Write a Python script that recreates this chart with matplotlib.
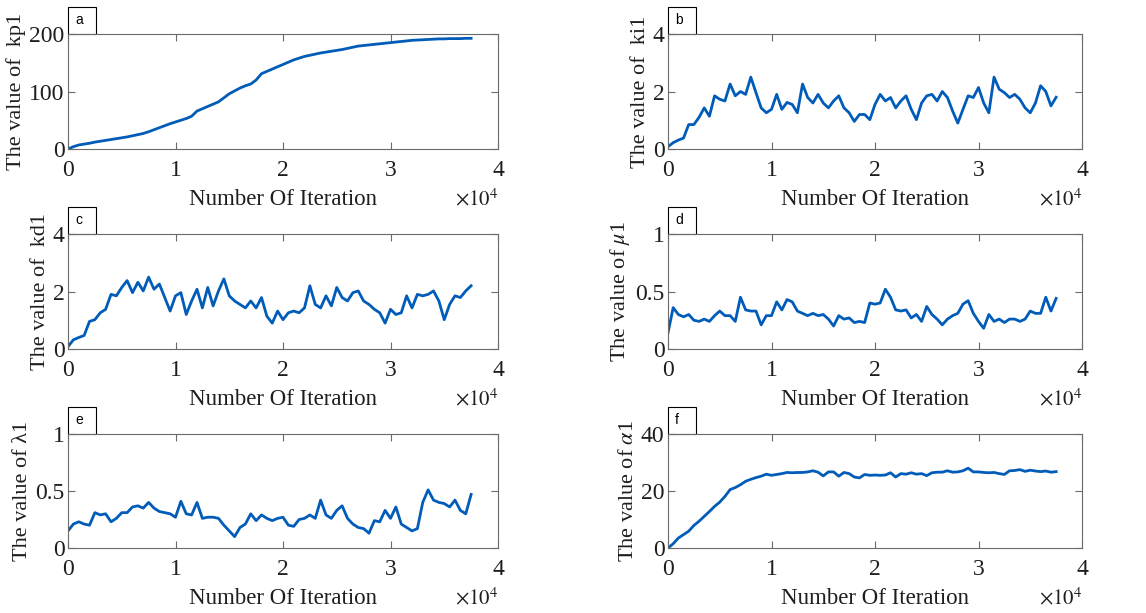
import matplotlib
matplotlib.use('Agg')
import matplotlib.pyplot as plt
import numpy as np
from matplotlib.patches import Rectangle
from matplotlib.ticker import FuncFormatter

plt.rcParams['font.family'] = ['Liberation Serif', 'DejaVu Serif']
plt.rcParams['mathtext.fontset'] = 'stix'

# ---------------- data (iterations 0 .. 37500, step 500) ----------------
last_iteration = 37500

kp1 = [0, 4, 7, 8.5, 10, 12, 13.5, 15, 16.5, 18, 19.5, 21, 23, 25, 27, 30, 33.5, 37, 40.5, 44,
       47, 50, 53, 57, 66, 70, 74, 78, 82, 89, 96, 101, 106, 110, 113, 120, 131, 135, 139, 143,
       147, 151, 155, 158, 161, 163, 165, 167, 168.5, 170, 171.5, 173, 175, 177, 179, 180, 181,
       182, 183, 184, 185, 186, 187, 188, 189, 189.5, 190, 190.5, 191, 191.5, 191.5, 192, 192,
       192, 192.5, 192.5]

ki1 = [0.08, 0.22, 0.31, 0.38, 0.85, 0.85, 1.1, 1.43, 1.14, 1.85, 1.73, 1.67, 2.26, 1.85, 2.0,
       1.9, 2.5, 1.96, 1.43, 1.26, 1.38, 1.9, 1.38, 1.62, 1.55, 1.26, 2.26, 1.79, 1.6, 1.9, 1.6,
       1.43, 1.67, 1.85, 1.43, 1.26, 0.96, 1.2, 1.2, 1.02, 1.55, 1.9, 1.67, 1.79, 1.43, 1.67,
       1.85, 1.38, 1.02, 1.6, 1.85, 1.9, 1.67, 2.0, 1.79, 1.32, 0.9, 1.38, 1.85, 1.79, 2.14, 1.6,
       1.26, 2.5, 2.08, 1.96, 1.79, 1.9, 1.73, 1.43, 1.26, 1.6, 2.2, 2.0, 1.5, 1.8]

kd1 = [0.08, 0.32, 0.4, 0.47, 0.96, 1.02, 1.26, 1.38, 1.9, 1.85, 2.14, 2.38, 1.96, 2.32, 2.02,
       2.5, 2.08, 2.26, 1.79, 1.32, 1.85, 1.96, 1.2, 1.67, 2.08, 1.43, 2.14, 1.5, 2.02, 2.44,
       1.85, 1.67, 1.55, 1.43, 1.67, 1.43, 1.79, 1.14, 0.9, 1.32, 1.02, 1.26, 1.32, 1.26, 1.43,
       2.2, 1.55, 1.43, 1.85, 1.5, 2.14, 1.79, 1.67, 1.96, 2.02, 1.67, 1.55, 1.38, 1.26, 0.9,
       1.38, 1.2, 1.26, 1.85, 1.43, 1.9, 1.85, 1.9, 2.02, 1.67, 1.02, 1.55, 1.85, 1.79, 2.02, 2.2]

mu1 = [0.14, 0.36, 0.3, 0.28, 0.3, 0.25, 0.24, 0.26, 0.24, 0.29, 0.33, 0.29, 0.29, 0.24, 0.45,
       0.34, 0.33, 0.33, 0.21, 0.29, 0.29, 0.41, 0.34, 0.43, 0.41, 0.33, 0.31, 0.29, 0.31, 0.29,
       0.3, 0.26, 0.2, 0.29, 0.26, 0.27, 0.23, 0.24, 0.23, 0.4, 0.39, 0.4, 0.52, 0.45, 0.34,
       0.33, 0.34, 0.27, 0.3, 0.24, 0.37, 0.3, 0.26, 0.21, 0.26, 0.29, 0.31, 0.39, 0.42, 0.31,
       0.24, 0.18, 0.3, 0.24, 0.26, 0.23, 0.26, 0.26, 0.24, 0.26, 0.33, 0.31, 0.31, 0.45, 0.33,
       0.44]

lambda1 = [0.15, 0.21, 0.23, 0.21, 0.2, 0.31, 0.29, 0.3, 0.23, 0.26, 0.31, 0.31, 0.36, 0.37,
           0.35, 0.4, 0.35, 0.32, 0.31, 0.3, 0.27, 0.41, 0.3, 0.29, 0.4, 0.26, 0.27, 0.27, 0.26,
           0.2, 0.15, 0.1, 0.18, 0.21, 0.3, 0.24, 0.29, 0.26, 0.24, 0.26, 0.27, 0.2, 0.19, 0.25,
           0.26, 0.29, 0.26, 0.42, 0.29, 0.26, 0.33, 0.37, 0.26, 0.21, 0.18, 0.17, 0.13, 0.24,
           0.23, 0.33, 0.26, 0.36, 0.21, 0.18, 0.15, 0.17, 0.4, 0.51, 0.42, 0.4, 0.39, 0.36, 0.42,
           0.33, 0.3, 0.47]

alpha1 = [0, 1.5, 3.5, 4.7, 5.9, 7.9, 9.4, 11.1, 12.8, 14.6, 16.1, 18.1, 20.5, 21.2, 22.2, 23.4,
          24.1, 24.7, 25.2, 25.9, 25.5, 25.8, 26.1, 26.5, 26.4, 26.5, 26.5, 26.7, 27.1, 26.6,
          25.3, 26.7, 26.7, 25.2, 26.5, 26.1, 24.9, 24.6, 25.8, 25.5, 25.6, 25.5, 25.6, 26.4,
          24.9, 26.1, 25.9, 26.4, 25.9, 26.1, 25.4, 26.4, 26.6, 26.6, 27.1, 26.6, 26.7, 27.1,
          28.0, 26.7, 26.7, 26.5, 26.4, 26.5, 26.1, 25.8, 27.1, 27.2, 27.5, 26.9, 27.3, 27.0,
          26.8, 27.0, 26.6, 26.8]

panel_letters = ['a', 'b', 'c', 'd', 'e', 'f']
y_labels = ['The value of  kp1', 'The value of  ki1', 'The value of  kd1',
            r'The value of $\mu$1', 'The value of λ1', r'The value of $\alpha$1']
series = [kp1, ki1, kd1, mu1, lambda1, alpha1]
y_limits = [(0, 200), (0, 4), (0, 4), (0, 1), (0, 1), (0, 40)]
y_ticks = [[0, 100, 200], [0, 2, 4], [0, 2, 4], [0, 0.5, 1], [0, 0.5, 1], [0, 20, 40]]
x_ticks = [0, 10000, 20000, 30000, 40000]
x_tick_labels = ['0', '1', '2', '3', '4']
x_label = 'Number Of Iteration'

# ---------------- layout ----------------
W, H = 1146, 613
fig = plt.figure(figsize=(W / 100, H / 100), dpi=100)

cols = [(68, 498), (668, 1082)]
rows = [(34, 149), (234, 349), (434, 548)]

line_color = '#005cb8'
frame_color = '#6a6a6a'
text_color = '#1e1e1e'

for i, y in enumerate(series):
    r, c = divmod(i, 2)
    x0, x1 = cols[c]
    y0, y1 = rows[r]
    ax = fig.add_axes([x0 / W, 1 - y1 / H, (x1 - x0) / W, (y1 - y0) / H])
    x = np.linspace(0, last_iteration, len(y))
    ax.plot(x, y, color=line_color, lw=2.0, solid_joinstyle='round')
    ax.set_xlim(0, 40000)
    ax.set_ylim(*y_limits[i])
    ax.set_xticks(x_ticks)
    ax.set_xticklabels(x_tick_labels)
    ax.set_yticks(y_ticks[i])
    ax.yaxis.set_major_formatter(FuncFormatter(lambda v, p: '%g' % v))
    for s in ax.spines.values():
        s.set_color(frame_color)
        s.set_linewidth(0.8)
    ax.tick_params(direction='in', top=True, right=True, length=5, width=0.8,
                   color=frame_color, labelsize=17, labelcolor=text_color)
    ax.tick_params(axis='x', pad=8)
    ax.tick_params(axis='y', pad=2.5)
    ax.set_xlabel(x_label, fontsize=16.5, color=text_color, labelpad=5.5)
    ax.set_ylabel(y_labels[i], fontsize=16, color=text_color, labelpad=2)
    ax.text(1.0, -51 / (y1 - y0), r'$\times 10^{4}$', transform=ax.transAxes, ha='right',
            va='center', fontsize=15, color=text_color)
    bw = 28 / (x1 - x0)
    bh = 27 / (y1 - y0)
    ax.add_patch(Rectangle((0, 1), bw, bh, transform=ax.transAxes, clip_on=False,
                           facecolor='white', edgecolor='black', lw=0.8))
    ax.text(7 / (x1 - x0), 1 + bh / 2, panel_letters[i], transform=ax.transAxes,
            ha='left', va='center', fontsize=10, family=['Liberation Sans', 'DejaVu Sans'],
            color='black')

fig.savefig('out.png', dpi=100)
